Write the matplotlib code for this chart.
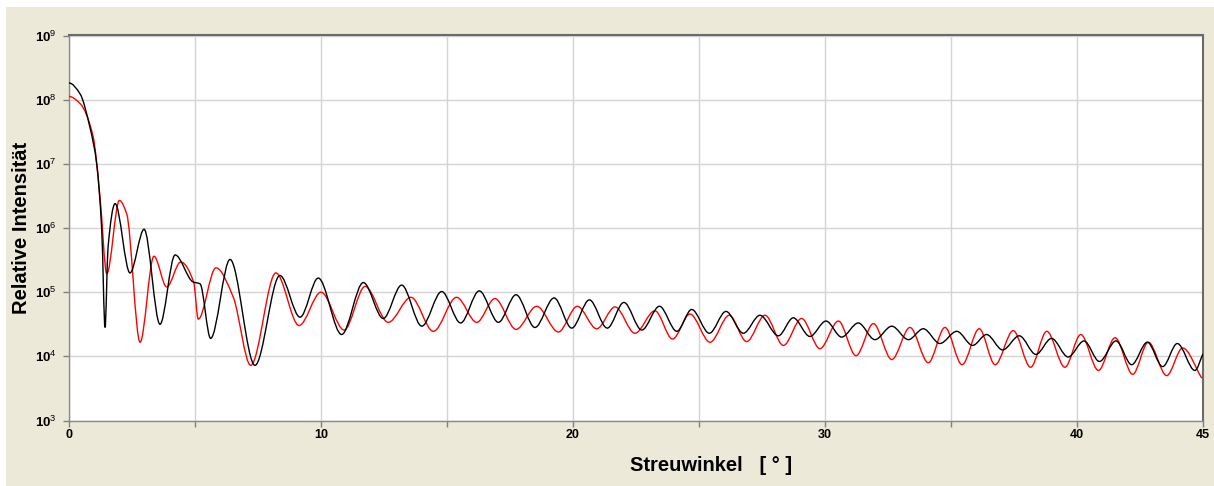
import numpy as np
import matplotlib.pyplot as plt
from matplotlib.path import Path
from matplotlib.patches import PathPatch, Rectangle

# === 1. Data (x in degrees, y as log10 of intensity) ===
black_x = [0.00, 0.44, 0.83, 1.10, 1.30, 1.43, 1.55, 1.83, 2.42, 2.98, 3.61, 4.21,
           4.92, 5.20, 5.62, 6.39, 7.38, 8.37, 9.17, 9.89, 10.82, 11.68, 12.47,
           13.20, 14.00, 14.79, 15.54, 16.28, 17.04, 17.74, 18.49, 19.25, 19.95,
           20.65, 21.36, 22.02, 22.73, 23.43, 24.12, 24.71, 25.41, 26.07, 26.76,
           27.42, 28.15, 28.74, 29.40, 30.04, 30.66, 31.32, 31.98, 32.65, 33.31,
           33.90, 34.56, 35.23, 35.86, 36.41, 37.05, 37.71, 38.37, 38.99, 39.65,
           40.28, 40.89, 41.55, 42.17, 42.79, 43.40, 43.98, 44.68, 45.00]
black_log = [8.26, 8.09, 7.57, 7.00, 5.96, 4.45, 5.70, 6.38, 5.30, 5.98, 4.50, 5.58,
             5.16, 5.13, 4.28, 5.51, 3.86, 5.26, 4.61, 5.22, 4.34, 5.15, 4.59,
             5.11, 4.47, 5.01, 4.52, 5.02, 4.53, 4.96, 4.45, 4.91, 4.44,
             4.88, 4.44, 4.84, 4.41, 4.78, 4.39, 4.73, 4.36, 4.70, 4.36,
             4.64, 4.32, 4.60, 4.31, 4.55, 4.30, 4.52, 4.26, 4.47, 4.26,
             4.43, 4.20, 4.39, 4.17, 4.34, 4.10, 4.32, 4.03, 4.28, 3.99,
             4.24, 3.92, 4.24, 3.87, 4.22, 3.84, 4.20, 3.78, 4.04]

red_x = [0.00, 0.44, 0.96, 1.23, 1.50, 2.00, 2.29, 2.82, 3.37, 3.88, 4.43, 4.95,
         5.13, 5.83, 6.52, 7.21, 8.21, 9.13, 10.00, 10.92, 11.75, 12.67, 13.57,
         14.46, 15.38, 16.18, 16.90, 17.74, 18.56, 19.42, 20.17, 20.94, 21.67,
         22.46, 23.25, 23.95, 24.64, 25.44, 26.20, 26.89, 27.62, 28.35, 29.07,
         29.80, 30.53, 31.23, 31.92, 32.65, 33.37, 34.10, 34.76, 35.44, 36.12,
         36.75, 37.47, 38.16, 38.80, 39.52, 40.15, 40.85, 41.51, 42.21, 42.83,
         43.56, 44.19, 44.95]
red_log = [8.05, 7.94, 7.42, 6.48, 5.29, 6.43, 6.22, 4.22, 5.56, 5.08, 5.47, 5.15,
           4.58, 5.38, 4.92, 3.86, 5.30, 4.48, 5.00, 4.41, 5.09, 4.53, 4.92,
           4.39, 4.92, 4.53, 4.90, 4.42, 4.78, 4.38, 4.78, 4.43, 4.77,
           4.36, 4.71, 4.27, 4.66, 4.22, 4.64, 4.23, 4.64, 4.17, 4.59,
           4.12, 4.55, 4.01, 4.51, 3.95, 4.45, 3.90, 4.45, 3.87, 4.43,
           3.87, 4.40, 3.83, 4.39, 3.83, 4.34, 3.78, 4.29, 3.72, 4.22,
           3.70, 4.13, 3.66]

x_tick_labels = [0, 10, 20, 30, 40, 45]
y_exponents = [3, 4, 5, 6, 7, 8, 9]


# === 2. Smooth curve through the read points (monotone cubic as Bezier path) ===
def smooth_path(xs, logs):
    x = np.asarray(xs, float)
    y = np.asarray(logs, float)
    h = np.diff(x)
    d = np.diff(y) / h
    m = np.zeros_like(x)
    for i in range(1, len(x) - 1):
        if d[i - 1] * d[i] > 0:
            w1 = 2 * h[i] + h[i - 1]
            w2 = h[i] + 2 * h[i - 1]
            m[i] = (w1 + w2) / (w1 / d[i - 1] + w2 / d[i])
    m[-1] = d[-1]
    verts = [(x[0], 10 ** y[0])]
    codes = [Path.MOVETO]
    for i in range(len(h)):
        verts += [(x[i] + h[i] / 3, 10 ** (y[i] + m[i] * h[i] / 3)),
                  (x[i + 1] - h[i] / 3, 10 ** (y[i + 1] - m[i + 1] * h[i] / 3)),
                  (x[i + 1], 10 ** y[i + 1])]
        codes += [Path.CURVE4] * 3
    return Path(verts, codes)


# === 3. Figure ===
plt.rcParams['font.family'] = ['Liberation Sans', 'DejaVu Sans']
plt.rcParams['mathtext.fontset'] = 'custom'
plt.rcParams['mathtext.rm'] = 'Liberation Sans'
plt.rcParams['mathtext.bf'] = 'Liberation Sans:bold'

W, H = 1214, 486
fig = plt.figure(figsize=(W / 100, H / 100), dpi=100, facecolor='white')
fig.patches.append(Rectangle((6 / W, 0), 1, 1 - 7 / H, transform=fig.transFigure,
                             facecolor='#ECE9D8', edgecolor='none', zorder=-10))

ax = fig.add_axes([69 / W, 1 - 420.5 / H, (1203 - 69) / W, (420.5 - 35.5) / H])
ax.set_zorder(1)
ax.set_facecolor('white')

ax.add_patch(PathPatch(smooth_path(red_x, red_log), fill=False,
                       edgecolor='#ff0000', lw=1.0, zorder=3))
ax.add_patch(PathPatch(smooth_path(black_x, black_log), fill=False,
                       edgecolor='#000000', lw=1.0, zorder=4))

# === 4. Axes ===
ax.set_yscale('log')
ax.set_xlim(0, 45)
ax.set_ylim(1e3, 1e9)

ax.set_xticks(np.arange(0, 46, 5))
ax.set_xticklabels([str(v) if v in x_tick_labels else '' for v in range(0, 46, 5)],
                   fontsize=9, fontweight='bold')
ax.set_yticks([10.0 ** e for e in y_exponents])
ax.set_yticklabels([r'$\mathbf{10}^{%d}$' % e for e in y_exponents], fontsize=9.5)
ax.minorticks_off()
ax.tick_params(axis='both', direction='out', length=4, width=1, color='#808080')
ax.tick_params(axis='x', pad=2)
ax.tick_params(axis='y', pad=5)

ax.grid(True, color='#d4d4d4', lw=1)
ax.set_axisbelow(True)

for side in ['top', 'right']:
    ax.spines[side].set_color('#6a6a6a')
    ax.spines[side].set_linewidth(1.5)
for side in ['left', 'bottom']:
    ax.spines[side].set_color('#8a8a8a')
    ax.spines[side].set_linewidth(1.0)

ax.set_xlabel('Streuwinkel   [ \u00b0 ]', fontsize=14.5, fontweight='bold')
ax.set_ylabel('Relative Intensit\u00e4t', fontsize=14.5, fontweight='bold')
ax.xaxis.label.set_va('center')
ax.xaxis.set_label_coords(0.566, -0.116)
ax.yaxis.label.set_va('center')
ax.yaxis.set_label_coords(-0.042, 0.5)

fig.savefig('out.png', dpi=100)
